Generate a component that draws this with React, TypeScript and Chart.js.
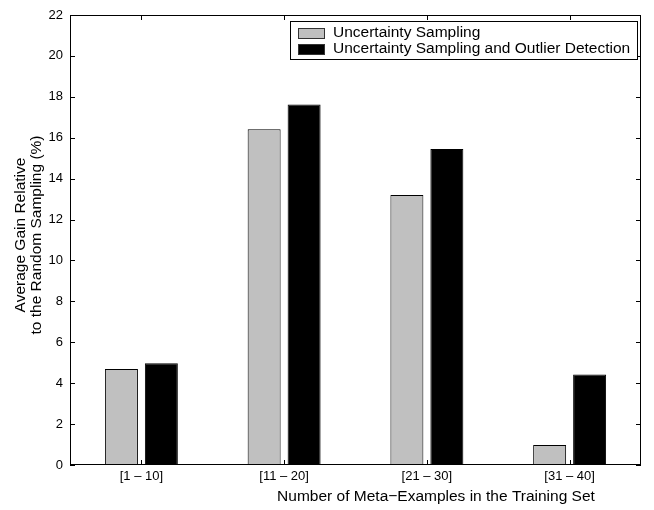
import React, { useEffect, useRef } from "react";
import { Chart, registerables } from "chart.js";

Chart.register(...registerables);

const categories = ["[1 – 10]", "[11 – 20]", "[21 – 30]", "[31 – 40]"];
const uncertaintySampling = [4.69, 16.42, 13.2, 0.98];
const uncertaintyOutlier = [4.97, 17.62, 15.45, 4.43];
const seriesNames = ["Uncertainty Sampling", "Uncertainty Sampling and Outlier Detection"];
const yTicks = [0, 2, 4, 6, 8, 10, 12, 14, 16, 18, 20, 22];
const xTitle = "Number of Meta−Examples in the Training Set";
const yTitleLines = ["Average Gain Relative", "to the Random Sampling (%)"];

const FONT = '"Liberation Sans", Arial, Helvetica, sans-serif';
const GRAY = "#c0c0c0";

const decorPlugin = {
  id: "matlabDecor",
  afterDraw(chart: any) {
    const ctx = chart.ctx;
    const a = chart.chartArea;
    const xs = chart.scales.x;
    const ys = chart.scales.y;
    ctx.save();
    ctx.strokeStyle = "#000";
    ctx.lineWidth = 1;
    // box
    ctx.strokeRect(Math.round(a.left) + 0.5, Math.round(a.top) + 0.5, Math.round(a.right - a.left) - 1, Math.round(a.bottom - a.top) - 1);
    const tl = 5;
    ctx.beginPath();
    yTicks.forEach((v) => {
      const y = Math.round(ys.getPixelForValue(v)) + 0.5;
      ctx.moveTo(a.left, y);
      ctx.lineTo(a.left + tl, y);
      ctx.moveTo(a.right, y);
      ctx.lineTo(a.right - tl, y);
    });
    categories.forEach((_, i) => {
      const x = Math.round(xs.getPixelForValue(i)) + 0.5;
      ctx.moveTo(x, a.bottom);
      ctx.lineTo(x, a.bottom - tl);
      ctx.moveTo(x, a.top);
      ctx.lineTo(x, a.top + tl);
    });
    ctx.stroke();

    // x title
    ctx.fillStyle = "#000";
    ctx.font = "15.5px " + FONT;
    ctx.textAlign = "center";
    ctx.textBaseline = "middle";
    ctx.fillText(xTitle, 436, 497);

    // y title
    ctx.save();
    ctx.translate(21, 235);
    ctx.rotate(-Math.PI / 2);
    ctx.fillText(yTitleLines[0], 0, 0);
    ctx.fillText(yTitleLines[1], 0, 16);
    ctx.restore();

    // legend
    const lx = 290, ly = 21, lw = 347, lh = 38;
    ctx.fillStyle = "#fff";
    ctx.fillRect(lx, ly, lw, lh);
    ctx.strokeRect(lx + 0.5, ly + 0.5, lw, lh);
    const swatches = [GRAY, "#000"];
    const rowsY = [33, 49];
    swatches.forEach((c, i) => {
      ctx.fillStyle = c;
      ctx.fillRect(298, rowsY[i] - 5, 27, 11);
      ctx.strokeStyle = "#333";
      ctx.strokeRect(298.5, rowsY[i] - 5 + 0.5, 26, 10);
      ctx.fillStyle = "#000";
      ctx.textAlign = "left";
      ctx.fillText(seriesNames[i], 333, rowsY[i]);
    });
    ctx.restore();
  },
};

export default function App() {
  const ref = useRef<HTMLCanvasElement>(null);
  useEffect(() => {
    const chart = new Chart(ref.current!, {
      type: "bar",
      data: {
        labels: categories,
        datasets: [
          {
            label: seriesNames[0],
            data: uncertaintySampling,
            backgroundColor: GRAY,
            borderColor: "#000",
            borderWidth: 1,
            categoryPercentage: 0.56,
            barPercentage: 0.825,
          },
          {
            label: seriesNames[1],
            data: uncertaintyOutlier,
            backgroundColor: "#000",
            borderColor: "#000",
            borderWidth: 1,
            categoryPercentage: 0.56,
            barPercentage: 0.825,
          },
        ],
      },
      options: {
        animation: false,
        responsive: false,
        maintainAspectRatio: false,
        layout: { padding: { left: 0, right: 13, top: 15, bottom: 0 } },
        plugins: { legend: { display: false }, tooltip: { enabled: false } },
        scales: {
          x: {
            grid: { display: false, drawTicks: false },
            border: { display: false },
            ticks: { font: { family: FONT, size: 13 }, color: "#000", padding: 4, maxRotation: 0 },
            afterFit: (s: any) => { s.height = 45; },
          },
          y: {
            min: 0,
            max: 22,
            grid: { display: false, drawTicks: false },
            border: { display: false },
            afterBuildTicks: (s: any) => { s.ticks = yTicks.map((v) => ({ value: v })); },
            ticks: { font: { family: FONT, size: 13 }, color: "#000", padding: 7 },
            afterFit: (s: any) => { s.width = 70; },
          },
        },
      },
      plugins: [decorPlugin],
    });
    return () => chart.destroy();
  }, []);
  return (
    <div style={{ position: "fixed", left: 0, top: 0, width: 654, height: 510, background: "#fff" }}>
      <canvas ref={ref} width={654} height={510} style={{ width: 654, height: 510 }} />
    </div>
  );
}
